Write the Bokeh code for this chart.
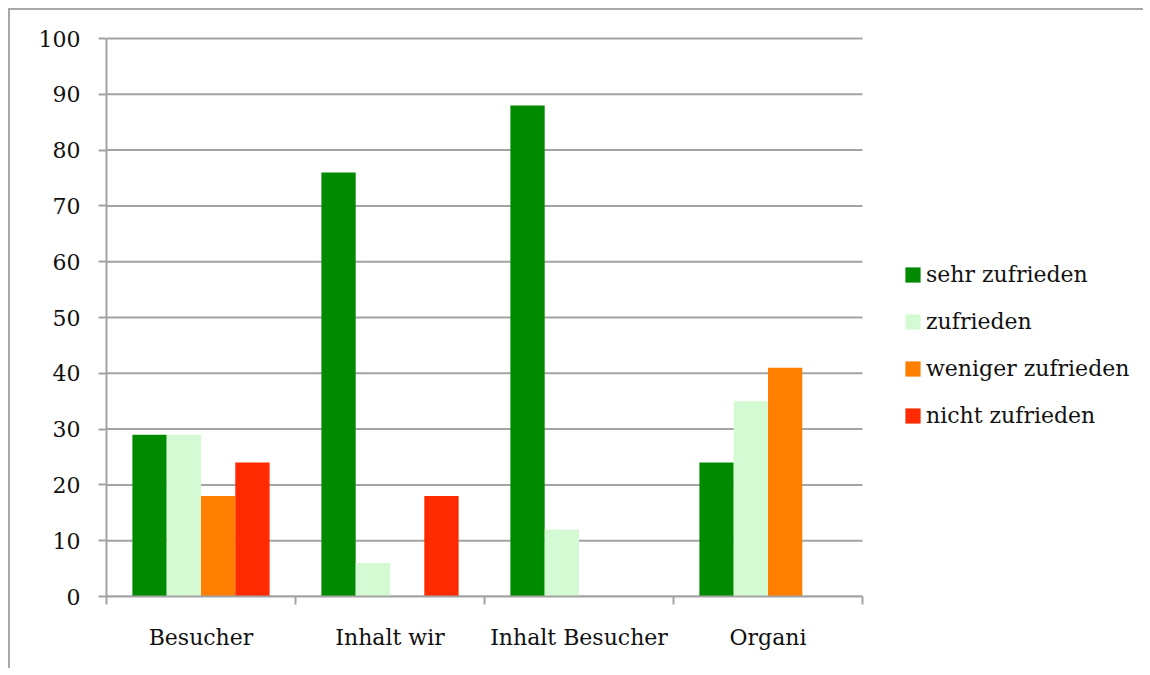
from bokeh.plotting import figure
from bokeh.models import (Range1d, LinearAxis, FixedTicker,
                          Legend, LegendItem, ColumnDataSource)
from bokeh.transform import dodge
from bokeh.embed import file_html
from bokeh.resources import INLINE

categories = ["Besucher", "Inhalt wir", "Inhalt Besucher", "Organi"]
series = ["sehr zufrieden", "zufrieden", "weniger zufrieden", "nicht zufrieden"]
sehr_zufrieden = [29, 76, 88, 24]
zufrieden = [29, 6, 12, 35]
weniger_zufrieden = [18, 0, 0, 41]
nicht_zufrieden = [24, 18, 0, 0]
colors = ["#008a00", "#d4fad4", "#ff7f00", "#ff2a00"]
y_ticks = list(range(0, 101, 10))

FONT = "DejaVu Serif"
FSIZE = "22px"
GRID = "#a3a3a3"
TEXT = "#111111"

W, H = 1135, 660
LEFT, TOP, BOTTOM = 96, 26, 74
BAR_AREA_W = 756          # width of the part of the frame that holds the categories
BAR_AREA_H = 558          # height of the 0..100 value span
n = len(categories)
x_end = n * (W - LEFT) / BAR_AREA_W          # frame extends right to host the legend
y_end = 100 * (H - TOP - BOTTOM) / BAR_AREA_H  # small headroom so the top grid line is not clipped

centers = [i + 0.5 for i in range(n)]
src = ColumnDataSource(dict(x=centers, s0=sehr_zufrieden, s1=zufrieden,
                            s2=weniger_zufrieden, s3=nicht_zufrieden))
grid_src = ColumnDataSource(dict(y=y_ticks, x0=[0] * len(y_ticks), x1=[n] * len(y_ticks)))

p = figure(x_range=Range1d(0, x_end), y_range=Range1d(0, y_end),
           width=W, height=H, output_backend="svg", toolbar_location=None,
           x_axis_location=None,
           min_border_left=LEFT, min_border_top=TOP, min_border_right=0, min_border_bottom=BOTTOM)
p.outline_line_color = None
p.styles = {"border-left": "2px solid #a8a8a8", "border-top": "2px solid #a8a8a8",
            "margin-left": "8px", "margin-top": "8px"}

# horizontal grid lines, limited to the category area
p.segment(x0="x0", x1="x1", y0="y", y1="y", source=grid_src, line_color=GRID, line_width=2)

bw = 0.1815
offsets = [-1.5 * bw, -0.5 * bw, 0.5 * bw, 1.5 * bw]
renderers = []
for i, (name, col) in enumerate(zip(series, colors)):
    r = p.vbar(x=dodge("x", offsets[i]), top="s%d" % i, width=bw,
               source=src, fill_color=col, line_color=None)
    renderers.append(r)

# edge ticks axis
tick_axis = LinearAxis(ticker=FixedTicker(ticks=list(range(n + 1))), bounds=(0, n),
                       major_label_overrides={i: "" for i in range(n + 1)},
                       major_label_text_font_size="0px", major_label_standoff=0,
                       major_tick_out=8, major_tick_in=0,
                       minor_tick_line_color=None,
                       axis_line_color=GRID, axis_line_width=2,
                       major_tick_line_color=GRID, major_tick_line_width=2)
p.add_layout(tick_axis, "below")

cat_axis = LinearAxis(ticker=FixedTicker(ticks=centers), bounds=(0, n),
                      major_label_overrides={c: lab for c, lab in zip(centers, categories)},
                      major_tick_line_color=None, minor_tick_line_color=None,
                      axis_line_color=None,
                      major_label_text_font=FONT, major_label_text_font_size=FSIZE,
                      major_label_text_color=TEXT, major_label_standoff=14)
p.add_layout(cat_axis, "below")

p.xgrid.visible = False
p.ygrid.visible = False
yax = p.yaxis[0]
yax.ticker = FixedTicker(ticks=y_ticks)
yax.bounds = (0, 100)
yax.major_tick_out = 8
yax.major_tick_in = 0
yax.minor_tick_line_color = None
yax.axis_line_color = GRID
yax.axis_line_width = 2
yax.major_tick_line_color = GRID
yax.major_tick_line_width = 2
yax.major_label_text_font = FONT
yax.major_label_text_font_size = FSIZE
yax.major_label_text_color = TEXT
yax.major_label_standoff = 18

legend = Legend(items=[LegendItem(label=s, renderers=[r]) for s, r in zip(series, renderers)],
                location=(797, 161), orientation="vertical",
                glyph_width=19, glyph_height=19, label_standoff=4,
                label_height=40, spacing=7, padding=0, margin=0,
                border_line_color=None, background_fill_alpha=0,
                label_text_font=FONT, label_text_font_size=FSIZE,
                label_text_color=TEXT)
p.add_layout(legend, "center")

open("out.html", "w").write(file_html(p, INLINE))
